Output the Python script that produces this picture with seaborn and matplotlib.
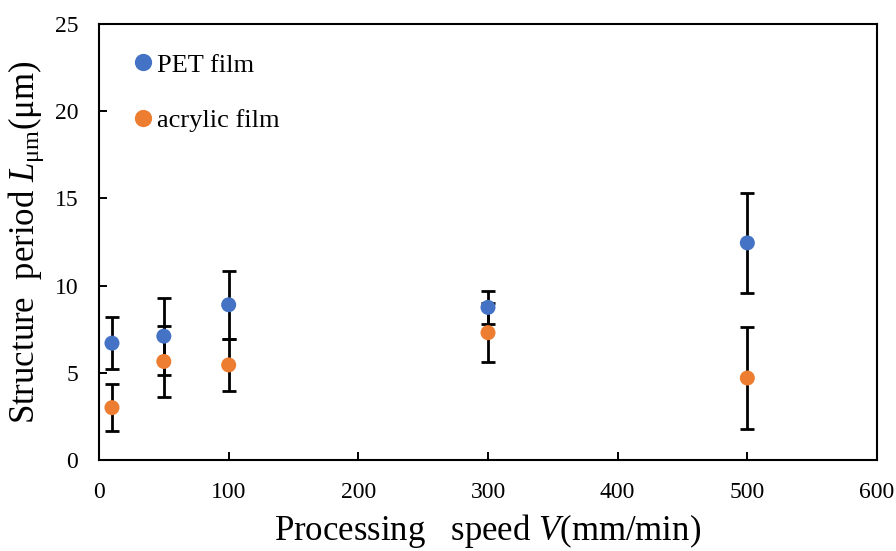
import matplotlib
matplotlib.use("Agg")
import matplotlib.pyplot as plt
import seaborn as sns
import pandas as pd
import numpy as np

speed = [10, 50, 100, 300, 500]
pet_mean = [6.7, 7.1, 8.9, 8.75, 12.45]
pet_err = [1.5, 2.2, 1.95, 0.95, 2.85]
acr_mean = [3.0, 5.65, 5.45, 7.3, 4.7]
acr_err = [1.35, 2.05, 1.5, 1.7, 2.9]
series_names = ["PET film", "acrylic film"]
colors = ["#4472C4", "#ED7D31"]
x_ticks = [0, 100, 200, 300, 400, 500, 600]
y_ticks = [0, 5, 10, 15, 20, 25]

sns.set_style("white")
plt.rcParams["font.family"] = ["Liberation Serif", "DejaVu Serif"]
plt.rcParams["mathtext.fontset"] = "custom"
plt.rcParams["mathtext.rm"] = "Liberation Serif"
plt.rcParams["mathtext.it"] = "Liberation Serif:italic"
plt.rcParams["text.color"] = "black"
plt.rcParams["axes.labelcolor"] = "black"

df = pd.DataFrame({
    "speed": speed * 2,
    "value": pet_mean + acr_mean,
    "err": pet_err + acr_err,
    "series": [series_names[0]] * len(speed) + [series_names[1]] * len(speed),
})

fig = plt.figure(figsize=(8.96, 5.51), dpi=100)
ax = fig.add_axes([0.1105, 0.1652, 0.8683, 0.7912])

for name in series_names:
    sub = df[df["series"] == name]
    ax.errorbar(sub["speed"], sub["value"], yerr=sub["err"], fmt="none",
                ecolor="black", elinewidth=2.0, capsize=4.7, capthick=2.0, zorder=2)

sns.scatterplot(data=df, x="speed", y="value", hue="series", palette=colors,
                hue_order=series_names, s=117, edgecolor="none", linewidth=0,
                ax=ax, zorder=3, legend=True)

ax.set_xlim(0, 600)
ax.set_ylim(0, 25)
ax.set_xticks(x_ticks)
ax.set_yticks(y_ticks)
ax.tick_params(axis="both", direction="in", length=6, width=1.4, labelsize=17,
               color="black", labelcolor="black", bottom=True, left=True,
               top=False, right=False)
ax.tick_params(axis="x", pad=16)
ax.tick_params(axis="y", pad=15)
for sp in ax.spines.values():
    sp.set_visible(True)
    sp.set_color("black")
    sp.set_linewidth(1.5)

ax.set_xlabel("Processing   speed $\\mathit{V}$(mm/min)", fontsize=25, labelpad=6)
ax.set_ylabel("Structure  period $\\mathit{L}_{\\mathrm{μm}}$(μm)", fontsize=25, labelpad=6)

handles, labels = ax.get_legend_handles_labels()
leg = ax.legend(handles, labels, loc="upper left", bbox_to_anchor=(0.047, 0.933),
                frameon=False, fontsize=19, handletextpad=0.2, handlelength=0.6,
                labelspacing=1.2, markerscale=1.15, borderaxespad=0, borderpad=0)

fig.savefig("out.png", dpi=100)
